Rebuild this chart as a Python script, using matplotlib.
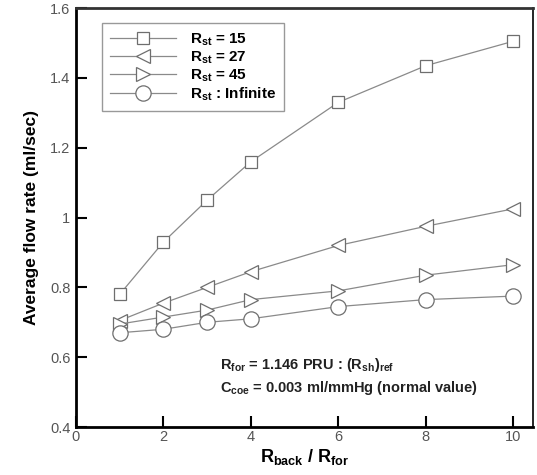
import numpy as np
import matplotlib.pyplot as plt

# ratio of back resistance to forward resistance
ratio = [1, 2, 3, 4, 6, 8, 10]

# average flow rate (ml/sec) for each stenosis resistance
flow_15 = [0.78, 0.93, 1.05, 1.16, 1.33, 1.435, 1.505]
flow_27 = [0.705, 0.755, 0.80, 0.845, 0.92, 0.975, 1.025]
flow_45 = [0.695, 0.715, 0.735, 0.765, 0.79, 0.835, 0.865]
flow_inf = [0.67, 0.68, 0.70, 0.71, 0.745, 0.765, 0.775]

labels = [r'R$_{\mathregular{st}}$ = 15', r'R$_{\mathregular{st}}$ = 27',
          r'R$_{\mathregular{st}}$ = 45', r'R$_{\mathregular{st}}$ : Infinite']

plt.rcParams['font.family'] = ['Liberation Sans', 'DejaVu Sans']
plt.rcParams['mathtext.fontset'] = 'custom'
plt.rcParams['mathtext.rm'] = 'Liberation Sans:bold'

fig = plt.figure(figsize=(5.37, 4.75), dpi=100)
ax = fig.add_axes([0.1415, 0.101, 0.8510, 0.8820])

line_col = '#8a8a8a'
series = [(flow_15, 's', 8.5), (flow_27, '<', 9.5), (flow_45, '>', 9.5), (flow_inf, 'o', 11)]
for (vals, mk, ms), lab in zip(series, labels):
    ax.plot(ratio, vals, color=line_col, lw=0.9, marker=mk, ms=ms,
            mfc='white', mec='#6e6e6e', mew=0.9, label=lab)

ax.set_xlim(0, 10.45)
ax.set_ylim(0.4, 1.6)
ax.set_xticks([0, 2, 4, 6, 8, 10])
ax.set_yticks(np.arange(0.4, 1.61, 0.2))
ax.set_yticklabels(['0.4', '0.6', '0.8', '1', '1.2', '1.4', '1.6'])
ax.tick_params(direction='in', length=8, width=1.5, labelsize=10.5,
               labelcolor='#555555', pad=4)
ax.tick_params(axis='x', pad=2)

for side in ['left', 'bottom', 'top']:
    ax.spines[side].set_linewidth(2.0)
ax.spines['right'].set_linewidth(1.2)
ax.spines['top'].set_color('#333333')

ax.set_ylabel('Average flow rate (ml/sec)', fontsize=12.5, fontweight='bold', labelpad=8)
ax.set_xlabel(r'R$_{\mathregular{back}}$ / R$_{\mathregular{for}}$', fontsize=13,
              fontweight='bold', labelpad=2)

leg = ax.legend(loc='upper left', bbox_to_anchor=(0.057, 0.964), borderaxespad=0,
                fontsize=11, handlelength=4.3, handletextpad=0.9, labelspacing=0.08,
                borderpad=0.55, fancybox=False, framealpha=1, edgecolor='#999999')
leg.get_frame().set_linewidth(1.0)
for t in leg.get_texts():
    t.set_fontweight('bold')

ax.text(3.3, 0.565, r'R$_{\mathregular{for}}$ = 1.146 PRU : (R$_{\mathregular{sh}}$)$_{\mathregular{ref}}$',
        fontsize=10.5, fontweight='bold', color='#222222')
ax.text(3.3, 0.50, r'C$_{\mathregular{coe}}$ = 0.003 ml/mmHg (normal value)',
        fontsize=10.5, fontweight='bold', color='#222222')

fig.savefig('out.png', dpi=100)
